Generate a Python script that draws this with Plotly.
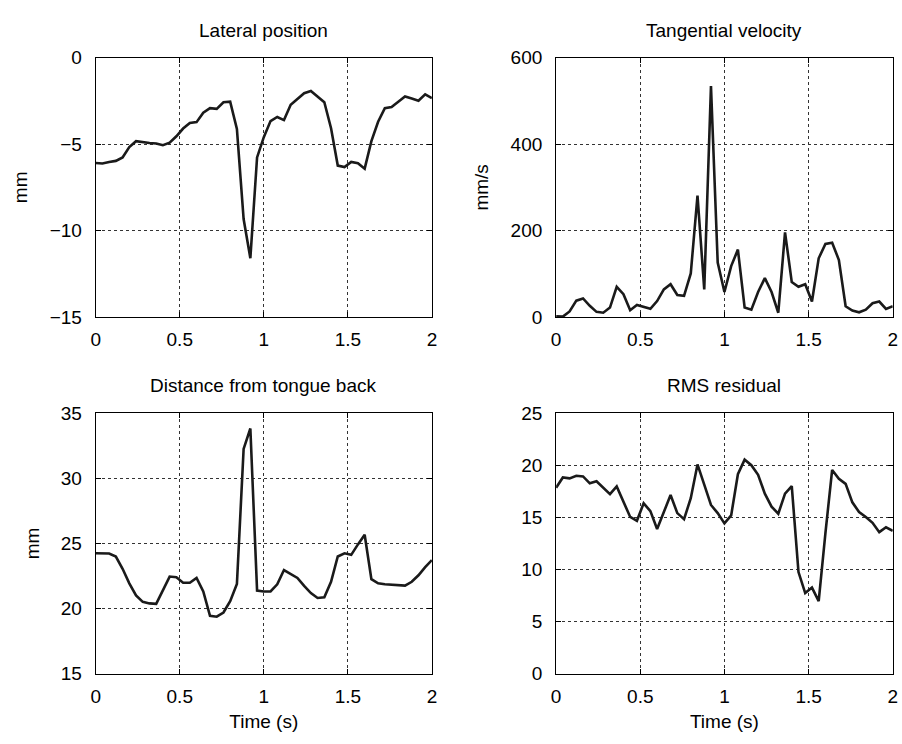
import plotly.graph_objects as go

t = [round(0.04 * i, 2) for i in range(51)]

lateral = [-6.09, -6.12, -6.03, -5.97, -5.77, -5.17, -4.83, -4.89, -4.94, -4.96,
           -5.06, -4.92, -4.55, -4.10, -3.78, -3.73, -3.18, -2.92, -2.96, -2.58,
           -2.55, -4.12, -9.33, -11.6, -5.77, -4.6, -3.67, -3.43, -3.61, -2.73,
           -2.40, -2.06, -1.93, -2.25, -2.58, -4.08, -6.24, -6.33, -6.03, -6.10,
           -6.42, -4.83, -3.71, -2.92, -2.85, -2.55, -2.25, -2.36, -2.49, -2.12, -2.34]

velocity = [2, 1, 13, 38, 43, 26, 12, 10, 22, 70,
            53, 16, 28, 24, 19, 37, 64, 76, 51, 49,
            101, 281, 64, 534, 126, 58, 118, 156, 22, 17,
            58, 90, 58, 10, 196, 81, 70, 76, 36, 136,
            169, 172, 132, 25, 15, 11, 17, 32, 36, 19, 25]

distance = [24.25, 24.23, 24.23, 24.0, 23.06, 21.94, 21.02, 20.52, 20.40, 20.37,
            21.39, 22.46, 22.41, 21.99, 21.99, 22.36, 21.32, 19.45, 19.38, 19.70,
            20.57, 21.89, 32.26, 33.83, 21.39, 21.32, 21.32, 21.87, 22.96, 22.69,
            22.36, 21.74, 21.19, 20.82, 20.87, 22.06, 24.0, 24.25, 24.13, 24.93,
            25.67, 22.26, 21.94, 21.87, 21.82, 21.79, 21.77, 22.06, 22.56, 23.18, 23.73]

rms = [17.85, 18.84, 18.75, 19.0, 18.94, 18.28, 18.47, 17.85, 17.23, 17.97,
       16.45, 15.05, 14.68, 16.36, 15.61, 13.90, 15.52, 17.16, 15.42, 14.83,
       16.85, 20.09, 18.16, 16.20, 15.42, 14.43, 15.2, 19.15, 20.55, 20.02,
       19.09, 17.29, 16.04, 15.36, 17.29, 18.0, 9.76, 7.74, 8.27, 6.97,
       13.5, 19.56, 18.72, 18.22, 16.45, 15.52, 15.05, 14.49, 13.59, 14.06, 13.71]

titles = ["Lateral position", "Tangential velocity", "Distance from tongue back", "RMS residual"]
xticks = [0, 0.5, 1, 1.5, 2]
xticklabels = ["0", "0.5", "1", "1.5", "2"]
yticks = [[-15, -10, -5, 0], [0, 200, 400, 600], [15, 20, 25, 30, 35], [0, 5, 10, 15, 20, 25]]
yranges = [[-15, 0], [0, 600], [15, 35], [0, 25]]
ytitles = ["mm", "mm/s", "mm", ""]
xtitles = ["", "", "Time (s)", "Time (s)"]
series = [lateral, velocity, distance, rms]

W, H = 902, 744
xdoms = [[91.7 / W, 431.7 / W], [557.3 / W, 897.7 / W]]
ydoms = [[1 - 316 / H, 1 - 49 / H], [1 - 683 / H, 1 - 415 / H]]

FONT = "Liberation Sans, Arial, Helvetica, sans-serif"
FS = 19
fig = go.Figure()
layout = dict(
    width=W, height=H, margin=dict(l=0, r=0, t=0, b=0),
    paper_bgcolor="white", plot_bgcolor="white", showlegend=False,
    font=dict(family=FONT, size=FS, color="black"),
)
annotations = []
for k in range(4):
    row, col = divmod(k, 2)
    sfx = "" if k == 0 else str(k + 1)
    fig.add_trace(go.Scatter(x=t, y=series[k], mode="lines",
                             line=dict(color="#1a1a1a", width=2.6),
                             xaxis="x" + sfx, yaxis="y" + sfx))
    common = dict(showline=True, linecolor="black", linewidth=1, mirror="ticks",
                  ticks="inside", ticklen=5, tickcolor="black",
                  showgrid=True, gridcolor="#333333", griddash="dot", gridwidth=1,
                  zeroline=False, tickfont=dict(size=FS, family=FONT))
    layout["xaxis" + sfx] = dict(common, domain=xdoms[col], anchor="y" + sfx,
                                 range=[0, 2], tickvals=xticks, ticktext=xticklabels,
                                 ticklabelstandoff=5,
                                 title=dict(text=xtitles[k], standoff=9,
                                            font=dict(size=FS, family=FONT)))
    layout["yaxis" + sfx] = dict(common, domain=ydoms[row], anchor="x" + sfx,
                                 range=yranges[k], tickvals=yticks[k],
                                 ticklabelstandoff=9,
                                 title=dict(text=ytitles[k], standoff=16,
                                            font=dict(size=FS, family=FONT)))
    annotations.append(dict(text=titles[k], xref="paper", yref="paper",
                            x=sum(xdoms[col]) / 2, y=ydoms[row][1],
                            xanchor="center", yanchor="bottom", yshift=15,
                            showarrow=False, font=dict(size=FS, family=FONT)))
layout["annotations"] = annotations
fig.update_layout(**layout)
fig.write_html("out.html")
